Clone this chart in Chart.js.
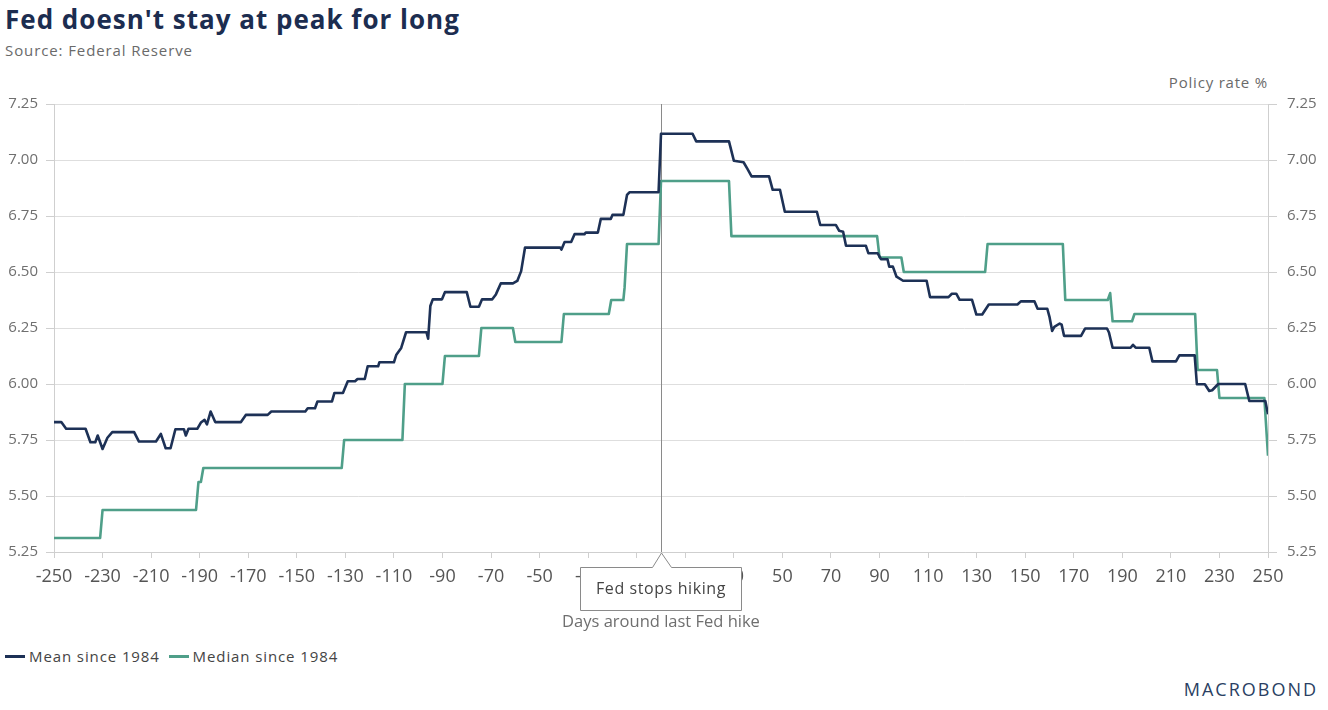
<!DOCTYPE html>
<html>
<head>
<meta charset="utf-8">
<script src="https://cdn.jsdelivr.net/npm/chart.js@4.4.0/dist/chart.umd.min.js"></script>
<style>
  html, body { margin: 0; padding: 0; background: #fff; }
  body { width: 1328px; height: 710px; position: relative; overflow: hidden; font-family: "Open Sans", sans-serif; }
  #titulo { position: absolute; left: 5px; top: 1px; font-size: 26px; font-weight: 700; color: #1c2d50; letter-spacing: 1px; }
  #fuente { position: absolute; left: 5px; top: 40px; font-size: 15px; color: #6a6a6a; letter-spacing: 0.9px; }
  #unidad { position: absolute; right: 60px; top: 72px; font-size: 15px; color: #6a6a6a; letter-spacing: 0.8px; }
  #leyenda { position: absolute; left: 5px; top: 646px; font-size: 15px; color: #444; letter-spacing: 0.9px; }
  #leyenda span { display: inline-block; margin-right: 4px; }
  #leyenda i { display: inline-block; width: 20px; height: 3px; vertical-align: middle; margin-right: 4px; position: relative; top: -1px; }
  #logo { position: absolute; right: 10px; top: 677px; font-size: 18px; color: #2b3f63; letter-spacing: 2px; }
  #grafico { position: absolute; left: 0; top: 0; }
</style>
</head>
<body>
<div id="titulo">Fed doesn't stay at peak for long</div>
<div id="fuente">Source: Federal Reserve</div>
<div id="unidad">Policy rate %</div>
<div id="leyenda">
  <span><i style="background:#1d3156"></i>Mean since 1984</span>
  <span><i style="background:#4f9f89"></i>Median since 1984</span>
</div>
<div id="logo">MACROBOND</div>
<canvas id="grafico" width="1328" height="710"></canvas>
<script>
// Media desde 1984 (puntos de cambio: dia, tasa)
const diasMedia = [-250, -247, -245, -237, -235, -233, -232, -230, -228, -226, -217, -215, -208, -206, -204, -202, -200,
  -196.5, -195.7, -194.6, -191, -189.5, -188, -187, -185.5, -183.6, -173, -171, -162, -160.5, -146.5, -145.5, -142.5,
  -141.5, -135.5, -134.5, -131, -129, -126, -125, -122, -120.8, -116.5, -116, -110, -109, -107, -105, -96.6, -95.9,
  -95, -94, -90.2, -89, -80, -78.5, -75, -73.7, -69.5, -68, -66, -61, -59.2, -57.6, -56, -41.5, -41, -39.7, -37,
  -35.6, -31.5, -31, -26, -24.8, -20.7, -20, -15.5, -14, -13, -1, 0, 13, 14.5, 28, 30, 34, 35.6, 37.3, 44.5, 46,
  49, 51, 64.2, 65.6, 72, 73.4, 75, 76.2, 84.4, 85.4, 89.2, 90.6, 93.3, 94, 95.5, 97, 99.7, 109.4, 110.8, 118.4,
  119.8, 121.6, 123, 128.1, 129.9, 132.3, 135, 146.8, 148.2, 153.8, 155.1, 159.1, 160, 161.1, 162, 164.2, 165, 166,
  173, 174.7, 183.7, 184.5, 186, 193.4, 194.4, 195.5, 201.1, 202.4, 212.1, 213.5, 219.8, 220.7, 224, 225.8, 227,
  229.5, 240.6, 242.3, 248.9, 250];
const valoresMedia = [5.83, 5.83, 5.80, 5.80, 5.74, 5.74, 5.77, 5.71, 5.76, 5.785, 5.785, 5.743, 5.743, 5.777, 5.713,
  5.713, 5.798, 5.798, 5.77, 5.80, 5.80, 5.828, 5.84, 5.82, 5.877, 5.83, 5.83, 5.862, 5.862, 5.877, 5.877, 5.892,
  5.892, 5.922, 5.922, 5.96, 5.96, 6.012, 6.012, 6.022, 6.022, 6.079, 6.079, 6.097, 6.097, 6.131, 6.161, 6.231,
  6.231, 6.202, 6.348, 6.378, 6.378, 6.41, 6.41, 6.345, 6.345, 6.378, 6.378, 6.40, 6.449, 6.449, 6.46, 6.504,
  6.609, 6.609, 6.60, 6.634, 6.634, 6.669, 6.669, 6.676, 6.676, 6.737, 6.737, 6.755, 6.755, 6.844, 6.856, 6.856,
  7.117, 7.117, 7.083, 7.083, 6.997, 6.99, 6.96, 6.927, 6.927, 6.867, 6.867, 6.769, 6.769, 6.71, 6.71, 6.684, 6.68,
  6.617, 6.617, 6.584, 6.584, 6.557, 6.557, 6.524, 6.524, 6.479, 6.461, 6.461, 6.388, 6.388, 6.403, 6.403, 6.376,
  6.376, 6.31, 6.31, 6.355, 6.355, 6.369, 6.369, 6.336, 6.336, 6.30, 6.237, 6.255, 6.27, 6.265, 6.215, 6.215,
  6.248, 6.248, 6.23, 6.162, 6.162, 6.175, 6.162, 6.162, 6.101, 6.101, 6.128, 6.128, 5.999, 5.999, 5.969, 5.972,
  6.00, 6.00, 5.924, 5.924, 5.865];

// Mediana desde 1984
const diasMediana = [-250, -231, -230, -191.5, -190.5, -189.5, -188.5, -131.5, -130.5, -106.5, -105.5, -90, -89, -75,
  -74, -61, -60, -41, -40, -21.5, -20.5, -15.5, -15, -14, -1, 0, 28, 29, 89, 90, 99, 100, 133.5, 134.5, 165.5,
  166.5, 184, 185, 186, 194, 195, 220, 221, 229, 230, 248.5, 250];
const valoresMediana = [5.3125, 5.3125, 5.4375, 5.4375, 5.5625, 5.5625, 5.625, 5.625, 5.75, 5.75, 6.00, 6.00, 6.125,
  6.125, 6.25, 6.25, 6.1875, 6.1875, 6.3125, 6.3125, 6.375, 6.375, 6.43, 6.625, 6.625, 6.90625, 6.90625, 6.66,
  6.66, 6.565, 6.565, 6.50, 6.50, 6.625, 6.625, 6.375, 6.375, 6.406, 6.28, 6.28, 6.3125, 6.3125, 6.0625, 6.0625,
  5.9375, 5.9375, 5.68];

const ticksX = [-250, -230, -210, -190, -170, -150, -130, -110, -90, -70, -50, -30, -10, 10, 30, 50, 70, 90, 110,
  130, 150, 170, 190, 210, 230, 250];
const ticksY = [5.25, 5.5, 5.75, 6.0, 6.25, 6.5, 6.75, 7.0, 7.25];
const textoNota = 'Fed stops hiking';
const tituloX = 'Days around last Fed hike';

const gris = '#6f6f6f';
const colorMedia = '#1d3156';
const colorMediana = '#4f9f89';

// linea vertical en el dia 0 y recuadro "Fed stops hiking"
const pluginNota = {
    id: 'nota',
    beforeDatasetsDraw(chart) {
        const ctx = chart.ctx;
        const x = Math.round(chart.scales.x.getPixelForValue(0)) + 0.5;
        ctx.save();
        ctx.strokeStyle = '#8a8a8a';
        ctx.lineWidth = 1;
        ctx.beginPath();
        ctx.moveTo(x, chart.chartArea.top);
        ctx.lineTo(x, chart.chartArea.bottom);
        ctx.stroke();
        ctx.restore();
    },
    afterDraw(chart) {
        const ctx = chart.ctx;
        const x = Math.round(chart.scales.x.getPixelForValue(0)) + 0.5;
        const top = chart.chartArea.bottom + 15.5;
        const bottom = top + 43;
        const left = x - 81, right = x + 80;
        ctx.save();
        ctx.fillStyle = '#fff';
        ctx.strokeStyle = '#8a8a8a';
        ctx.lineWidth = 1;
        ctx.beginPath();
        ctx.moveTo(left, top);
        ctx.lineTo(x - 9, top);
        ctx.lineTo(x, chart.chartArea.bottom + 1);
        ctx.lineTo(x + 10, top);
        ctx.lineTo(right, top);
        ctx.lineTo(right, bottom);
        ctx.lineTo(left, bottom);
        ctx.closePath();
        ctx.fill();
        ctx.stroke();
        ctx.fillStyle = '#444';
        ctx.font = '16px "Open Sans"';
        ctx.textAlign = 'center';
        ctx.textBaseline = 'middle';
        ctx.letterSpacing = '0.6px';
        ctx.fillText(textoNota, (left + right) / 2, (top + bottom) / 2);
        ctx.restore();
    }
};

const ctxGrafico = document.getElementById('grafico').getContext('2d');
new Chart(ctxGrafico, {
    type: 'line',
    data: {
        datasets: [
            {
                label: 'Mean since 1984',
                data: diasMedia.map((d, i) => ({ x: d, y: valoresMedia[i] })),
                borderColor: colorMedia,
                borderWidth: 2.6,
                pointRadius: 0,
                tension: 0,
                borderJoinStyle: 'round'
            },
            {
                label: 'Median since 1984',
                data: diasMediana.map((d, i) => ({ x: d, y: valoresMediana[i] })),
                borderColor: colorMediana,
                borderWidth: 2.6,
                pointRadius: 0,
                tension: 0,
                borderJoinStyle: 'round'
            }
        ]
    },
    options: {
        responsive: false,
        animation: false,
        layout: { padding: { top: 104, bottom: 68, left: 0, right: 0 } },
        plugins: {
            legend: { display: false },
            tooltip: { enabled: false }
        },
        scales: {
            x: {
                type: 'linear',
                min: -250,
                max: 250,
                afterBuildTicks: s => { s.ticks = ticksX.map(v => ({ value: v })); },
                afterFit: s => { s.height = 90; },
                grid: { drawOnChartArea: false, drawTicks: true, tickLength: 6, color: '#cfcfcf' },
                border: { display: true, color: '#cfcfcf' },
                ticks: { color: '#555', font: { family: 'Open Sans', size: 18 }, padding: 8, maxRotation: 0, autoSkip: false },
                title: { display: true, text: tituloX, color: gris, font: { family: 'Open Sans', size: 16.5 }, padding: { top: 0, bottom: 10 } }
            },
            y: {
                position: 'left',
                min: 5.25,
                max: 7.25,
                afterBuildTicks: s => { s.ticks = ticksY.map(v => ({ value: v })); },
                afterFit: s => { s.width = 54; },
                grid: { color: '#dedede', tickLength: 8, tickColor: '#cfcfcf' },
                border: { display: true, color: '#cfcfcf' },
                ticks: { color: gris, font: { family: 'Open Sans', size: 15 }, padding: 8, callback: v => v.toFixed(2) }
            },
            y2: {
                position: 'right',
                min: 5.25,
                max: 7.25,
                afterBuildTicks: s => { s.ticks = ticksY.map(v => ({ value: v })); },
                afterFit: s => { s.width = 60; },
                grid: { drawOnChartArea: false, tickLength: 9, color: '#cfcfcf' },
                border: { display: true, color: '#cfcfcf' },
                ticks: { color: gris, font: { family: 'Open Sans', size: 15 }, padding: 10, callback: v => v.toFixed(2) }
            }
        }
    },
    plugins: [pluginNota]
});
</script>
</body>
</html>
